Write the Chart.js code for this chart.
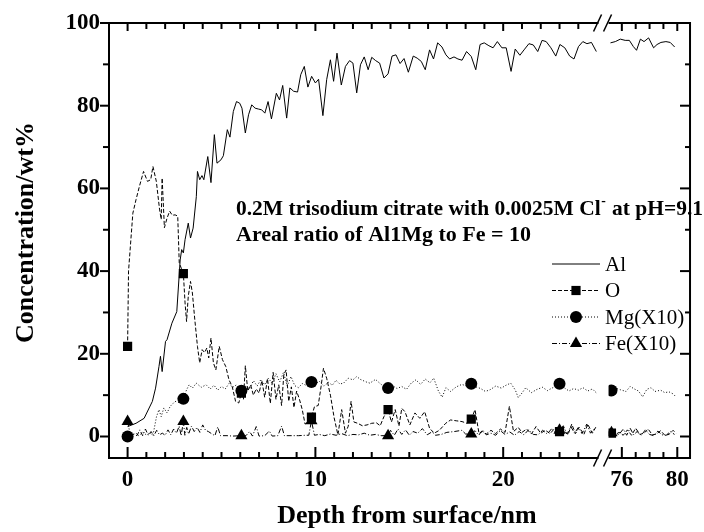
<!DOCTYPE html>
<html>
<head>
<meta charset="utf-8">
<title>Depth profile</title>
<script src="https://cdn.jsdelivr.net/npm/chart.js@4.4.1/dist/chart.umd.min.js"></script>
<style>
  body { margin: 0; background: #ffffff; }
  canvas { display: block; }
</style>
</head>
<body>
<canvas id="chart" width="704" height="532"></canvas>
<script>
// depth in nm, concentration in wt%; depths above 75 sit right of the axis break
const alDepth = [0, 0.45, 0.88, 1.32, 1.49, 1.67, 1.75, 1.84, 2.02, 2.1,
    2.36, 2.62, 2.8, 2.88, 2.97, 3.06, 3.23, 3.35, 3.49, 3.66,
    3.72, 3.84, 3.96, 4.06, 4.27, 4.44, 4.62, 4.76, 4.97, 5.1,
    5.31, 5.45, 5.63, 5.8, 5.97, 6.09, 6.27, 6.44, 6.61, 6.79,
    6.96, 7.14, 7.31, 7.48, 7.66, 7.92, 8.09, 8.26, 8.47, 8.64,
    8.84, 9.05, 9.22, 9.41, 9.6, 9.8, 10.0, 10.17, 10.4, 10.6,
    10.8, 10.97, 11.15, 11.38, 11.6, 11.82, 12.0, 12.2, 12.4, 12.6,
    12.81, 13.0, 13.21, 13.42, 13.65, 13.87, 14.08, 14.29, 14.51, 14.72,
    14.95, 15.21, 15.42, 15.64, 15.85, 16.08, 16.29, 16.51, 16.74, 16.95,
    17.15, 17.38, 17.59, 17.81, 18.05, 18.3, 18.54, 18.77, 18.99, 19.24,
    19.46, 19.69, 19.93, 20.16, 20.42, 20.64, 20.89, 21.11, 21.37, 21.6,
    21.84, 22.07, 22.29, 22.54, 22.8, 23.02, 23.28, 23.54, 23.77, 24.01,
    24.24, 24.46, 24.7, 24.96,
    75.18, 75.53, 75.89, 76.24, 76.54, 76.83, 77.06, 77.34, 77.6, 77.93,
    78.29, 78.54, 78.82, 79.18, 79.49, 79.81];
const alConc = [2.4, 3.2, 4.4, 8.5, 11.7, 16.9, 19.4, 15.7, 23, 23.4,
    27.4, 30.2, 42.7, 45.2, 44.4, 47.6, 51.6, 48, 50.4, 58,
    64.1, 62.1, 63.1, 62.1, 67.7, 61.4, 73, 66.1, 66.9, 67.9,
    74.2, 72.4, 78.6, 81, 80.6, 79.4, 73.4, 77.8, 80.2, 79.4,
    79.2, 79, 78.2, 81, 76.8, 83, 81.4, 84.9, 77, 84.3,
    83.5, 83.3, 87.5, 89.5, 84.5, 87.1, 85.5, 86.4, 77.6, 86.3,
    91.1, 85.9, 92.7, 85, 89.5, 90.9, 90.3, 83.1, 89.9, 91.8,
    88.7, 91.7, 90.9, 90.3, 86.7, 87.7, 92, 92.3, 90.2, 91.4,
    88.1, 92, 91.5, 90.7, 88.7, 93.5, 91.3, 95.2, 94.2, 92.3,
    91.3, 91.8, 91.3, 91, 93.1, 91.9, 88.7, 94.8, 95.2, 94.5,
    94, 95.5, 94, 94, 88.3, 93.7, 92.2, 93.5, 95, 94.7,
    93.1, 95.8, 95.5, 94, 92, 94.8, 94, 92, 91.3, 94.3,
    95.5, 95, 95.3, 93.1,
    95.2, 95.5, 96.1, 95.8, 95.8, 94.3, 93.4, 96.1, 95.5, 96.4,
    94, 94.8, 95.3, 95.5, 95.3, 94.2];

const oDepth = [0, 0.05, 0.28, 0.45, 0.63, 0.85, 1.06, 1.23, 1.35, 1.53,
    1.7, 1.79, 1.84, 1.96, 2.1, 2.24, 2.38, 2.53, 2.67, 2.75,
    2.97, 3.06, 3.14, 3.23, 3.35, 3.45, 3.58, 3.72, 3.84, 3.97,
    4.1, 4.22, 4.32, 4.44, 4.57, 4.7, 4.88, 5.05, 5.23, 5.4,
    5.57, 5.75, 5.92, 6.06, 6.17, 6.27, 6.4, 6.55, 6.7, 6.85,
    7.0, 7.15, 7.3, 7.45, 7.6, 7.75, 7.9, 8.05, 8.2, 8.32,
    8.44, 8.58, 8.72, 8.86, 9.0, 9.15, 9.3, 9.45, 9.6, 9.79,
    9.95, 10.15, 10.3, 10.43, 10.6, 10.8, 11.0, 11.2, 11.4, 11.6,
    11.75, 11.9, 12.05, 12.25, 12.5, 12.75, 13.0, 13.25, 13.45, 13.65,
    13.87, 14.05, 14.25, 14.45, 14.6, 14.77, 15.03, 15.3, 15.56, 15.82,
    16.08, 16.33, 16.6, 16.94, 17.2, 17.5, 17.81, 18.07, 18.3, 18.5,
    18.71, 18.9, 19.1, 19.35, 19.6, 19.85, 20.1, 20.33, 20.55, 20.8,
    21.0, 21.25, 21.5, 21.75, 22.0, 22.25, 22.5, 22.75, 23.0, 23.2,
    23.45, 23.65, 23.85, 24.05, 24.3, 24.5, 24.75, 24.95,
    75.25, 75.5, 75.8, 76.1, 76.4, 76.7, 77.0, 77.3, 77.6, 77.9,
    78.2, 78.5, 78.8, 79.1, 79.4, 79.7, 79.9];
const oConc = [21.8, 40, 54, 57.3, 60.5, 64.1, 61.7, 62.1, 65.3, 61.7,
    55, 52.5, 62.5, 50.5, 52.8, 54.5, 53.5, 53.6, 53.3, 42,
    39.4, 32.3, 27.8, 33.9, 37.5, 34.7, 28.2, 21.8, 17.8, 21,
    20.3, 21.4, 19, 23.8, 17.8, 16.1, 21.8, 18.6, 16.9, 13.7,
    12.1, 8.5, 8.1, 10.5, 9, 17.1, 11, 12.5, 10, 11.5,
    10.5, 13.5, 9.5, 14, 8, 15.5, 9, 12.5, 7.5, 15,
    16.1, 8.5, 12, 7, 11, 9, 6.5, 3, 3.5, 4.7,
    7.2, 7.5, 12, 16.5, 14.1, 10, 4.5, 0.4, 6.5, 0.8,
    2.5, 8.5, 3.5, 3.2, 2.6, 2.8, 3.2, 3.3, 2.6, 4.8,
    6.5, 3.5, 6.5, 2.5, 6.8, 6, 2.8, 5.7, 4.4, 6,
    2, 0.8, 1.5, 3.2, 4, 3.8, 3.6, 3.2, 4.2, 6.5,
    0.8, 1.2, 0.6, 1.5, 0.7, 1.8, 1.0, 7.3, 1.2, 2.2,
    1.0, 1.8, 0.6, 2.4, 0.8, 1.5, 0.7, 2.0, 1.2, 1.6,
    0.4, 3.0, 0.7, 2.2, 0.5, 3.0, 0.8, 2.4,
    0.8, 0.4, 1.0, 0.3, 1.6, 0.3, 2.0, 0.5, 0.8, 1.8,
    0.4, 0.6, 1.4, 0.3, 0.5, 1.5, 0.8];

const mgDepth = [0, 0.2, 0.45, 0.6, 0.8, 1.0, 1.2, 1.35, 1.54, 1.67,
    1.79, 1.93, 2.1, 2.27, 2.53, 2.75, 2.97, 3.14, 3.28, 3.45,
    3.66, 3.92, 4.18, 4.4, 4.6, 4.8, 5.0, 5.2, 5.4, 5.6,
    5.8, 6.06, 6.3, 6.5, 6.7, 6.9, 7.1, 7.3, 7.5, 7.7,
    7.9, 8.1, 8.3, 8.5, 8.7, 8.9, 9.1, 9.3, 9.5, 9.79,
    10.0, 10.2, 10.45, 10.7, 10.9, 11.1, 11.3, 11.5, 11.75, 12.0,
    12.2, 12.4, 12.7, 12.9, 13.2, 13.5, 13.87, 14.1, 14.35, 14.6,
    14.85, 15.1, 15.35, 15.6, 15.85, 16.1, 16.3, 16.55, 16.75, 16.95,
    17.2, 17.5, 17.8, 18.05, 18.3, 18.55, 18.8, 19.05, 19.3, 19.6,
    19.9, 20.15, 20.4, 20.65, 20.8, 21.0, 21.2, 21.5, 21.8, 22.1,
    22.35, 22.6, 22.8, 23.0, 23.25, 23.5, 23.75, 24.0, 24.25, 24.5,
    24.75, 24.95,
    75.25, 75.6, 75.9, 76.3, 76.6, 76.9, 77.2, 77.5, 77.8, 78.1,
    78.4, 78.8, 79.1, 79.4, 79.7, 79.9];
const mgConc = [0, 0.3, 0.8, 0.2, 1.0, 0.4, 0.8, 0.3, 4.8, 6.5,
    4.8, 6.9, 5.7, 7.3, 8.5, 8.2, 9.1, 11.3, 12.5, 11.7,
    12.9, 11.9, 12.5, 11.5, 12.4, 11.2, 12.1, 11.5, 12.8, 11.9,
    12.5, 11.05, 12.2, 11.5, 13.5, 12.2, 13.8, 12.5, 14.1, 12.8,
    15.2, 13.2, 15.5, 12.2, 14.5, 12.3, 11.8, 12.8, 12.4, 13.2,
    12.6, 13.4, 12.2, 13.1, 12.4, 13.6, 12.7, 12.9, 14.1, 13.7,
    14.5, 13.8, 13.2, 12.9, 13.8, 12.6, 11.7, 12.3, 11.6, 12.1,
    11.4, 12.9, 13.7, 12.6, 13.9, 13.0, 14.1, 11.0, 9.5, 11.8,
    10.9, 12.0, 12.6, 12.2, 12.75, 12.0, 11.6, 10.9, 11.3, 12.2,
    11.7, 12.4, 12.9, 11.2, 9.4, 10.5, 11.8, 10.6, 11.4, 11.9,
    11.1, 11.7, 12.2, 12.75, 11.8, 11.0, 11.6, 11.2, 11.8, 11.0,
    11.5, 10.6,
    11.1, 11.6, 11.3, 10.9, 12.1, 11.5, 11.0, 9.6, 11.4, 11.8,
    10.9, 11.2, 10.6, 10.8, 10.3, 9.6];

const feDepth = [0, 0.15, 0.35, 0.5, 0.65, 0.8, 0.95, 1.1, 1.25, 1.4,
    1.55, 1.7, 1.85, 2.0, 2.15, 2.3, 2.45, 2.6, 2.75, 2.85,
    2.97, 3.05, 3.15, 3.25, 3.4, 3.55, 3.7, 3.85, 4.0, 4.15,
    4.3, 4.5, 4.65, 4.8, 4.95, 5.3, 5.6, 6.06, 6.3, 6.5,
    6.65, 6.85, 7.0, 7.3, 7.55, 7.7, 8.0, 8.2, 8.35, 8.8,
    9.1, 9.5, 9.65, 9.79, 9.95, 10.2, 10.5, 10.8, 11.1, 11.4,
    11.7, 12.0, 12.3, 12.6, 12.9, 13.2, 13.5, 13.87, 14.0, 14.2,
    14.4, 14.6, 14.8, 15.0, 15.2, 15.45, 15.7, 15.95, 16.2, 16.4,
    16.7, 17.0, 17.4, 17.8, 18.0, 18.3, 18.5, 18.7, 18.9, 19.1,
    19.35, 19.6, 19.85, 20.1, 20.35, 20.6, 20.85, 21.1, 21.35, 21.6,
    21.85, 22.1, 22.35, 22.6, 22.8, 23.0, 23.2, 23.4, 23.6, 23.8,
    24.0, 24.2, 24.45, 24.65, 24.9,
    75.25, 75.5, 75.8, 76.1, 76.35, 76.6, 76.85, 77.1, 77.4, 77.7,
    78.0, 78.3, 78.6, 78.9, 79.2, 79.5, 79.8];
const feConc = [3.6, 0.3, 0.6, 0.2, 1.6, 0.2, 1.8, 0.3, 1.2, 0.2,
    1.5, 0.4, 0.8, 0.3, 1.6, 0.4, 1.8, 0.8, 2.5, 0.2,
    3.6, 0.3, 2.2, 0.6, 2.5, 1.2, 2.2, 1.0, 2.8, 1.5,
    1.2, 0.6, 0.2, 2.3, 0.2, 0.2, 0.1, 0.2, 0.2, 1.2,
    0.1, 2.4, 0.1, 0.2, 1.3, 0.1, 0.2, 2.5, 0.2, 0.2,
    0.2, 0.3, 0.3, 3.8, 0.3, 0.5, 0.2, 0.6, 0.3, 0.7,
    0.2, 0.5, 0.4, 0.8, 0.3, 0.5, 0.2, 0.2, 1.5, 0.3,
    1.8, 0.5, 1.6, 0.3, 1.2, 0.8, 1.9, 0.4, 1.1, 0.3,
    0.5, 1.0, 1.2, 1.5, 0.6, 0.6, 1.4, 0.3, 1.6, 0.4,
    0.8, 0.3, 1.4, 0.5, 1.1, 0.3, 1.2, 0.4, 1.6, 0.5,
    0.4, 1.5, 0.6, 2.0, 0.8, 1.5, 2.6, 0.6, 2.4, 0.8,
    2.2, 0.7, 3.0, 0.8, 2.1,
    0.9, 0.3, 0.5, 1.8, 0.3, 2.0, 0.4, 1.2, 0.3, 1.6,
    0.5, 0.2, 1.3, 0.4, 0.3, 1.2, 0.5];

const seriesLabels = ['Al', 'O', 'Mg(X10)', 'Fe(X10)'];
const markerDepths = [0, 2.97, 6.06, 9.79, 13.87, 18.3, 23.0, 75.25];
const leftTicks = [0, 10, 20];
const rightTicks = [76, 80];
const concTicks = [0, 20, 40, 60, 80, 100];

const serif = '"Liberation Serif", "Times New Roman", serif';

const styles = [
    {dash: [], marker: null, size: 0},
    {dash: [4, 2], marker: 'rect', size: 6.5},
    {dash: [1, 2], marker: 'circle', size: 6},
    {dash: [5, 2, 1, 2], marker: 'triangle', size: 7}
];

function splitSeries(depth, conc) {
    const left = [], right = [];
    depth.forEach(function (d, i) {
        (d < 50 ? left : right).push({x: d, y: conc[i]});
    });
    return [left, right];
}

const seriesData = [[alDepth, alConc], [oDepth, oConc], [mgDepth, mgConc], [feDepth, feConc]];
const datasets = [];
seriesData.forEach(function (s, k) {
    const st = styles[k];
    splitSeries(s[0], s[1]).forEach(function (pts, side) {
        datasets.push({
            label: seriesLabels[k],
            data: pts,
            xAxisID: side ? 'x2' : 'x',
            yAxisID: 'y',
            borderColor: '#000',
            borderWidth: 1,
            borderDash: st.dash,
            tension: 0,
            fill: false,
            pointStyle: st.marker || 'circle',
            pointRadius: function (c) {
                return st.marker && c.raw && markerDepths.includes(c.raw.x) ? st.size : 0;
            },
            pointBackgroundColor: '#000',
            pointBorderColor: '#000',
            pointBorderWidth: 0,
            pointHoverRadius: 0
        });
    });
});

function line(ctx, x1, y1, x2, y2) {
    ctx.beginPath();
    ctx.moveTo(x1, y1);
    ctx.lineTo(x2, y2);
    ctx.stroke();
}

const framePlugin = {
    id: 'frame',
    afterDraw(chart) {
        const ctx = chart.ctx;
        const a = chart.chartArea;
        const xs = chart.scales.x, x2 = chart.scales.x2, ys = chart.scales.y;
        ctx.save();
        ctx.strokeStyle = '#000';
        ctx.fillStyle = '#000';
        ctx.setLineDash([]);
        ctx.lineWidth = 2;
        ctx.strokeRect(a.left, a.top, a.right - a.left, a.bottom - a.top);

        // y ticks: outward on the left, inward on the right
        for (let v = 0; v <= 100; v += 10) {
            const py = ys.getPixelForValue(v);
            const major = v % 20 === 0;
            line(ctx, a.left, py, a.left - (major ? 9 : 6), py);
            line(ctx, a.right, py, a.right - (major ? 10 : 5), py);
        }
        // x ticks point inward, top and bottom
        function xTick(px, major) {
            line(ctx, px, a.bottom, px, a.bottom - (major ? 11 : 6));
            line(ctx, px, a.top, px, a.top + (major ? 8 : 6));
        }
        for (let v = 0; v <= 24; v++) xTick(xs.getPixelForValue(v), v % 10 === 0);
        for (let v = 76; v <= 80; v++) xTick(x2.getPixelForValue(v), v === 76 || v === 80);

        // axis break
        const bx = x2.left - 6;
        [a.top, a.bottom].forEach(function (yy) {
            ctx.fillStyle = '#fff';
            ctx.fillRect(bx - 4, yy - 3, 10, 6);
            ctx.lineWidth = 1.5;
            line(ctx, bx - 9, yy + 8.5, bx - 1, yy - 8.5);
            line(ctx, bx + 1, yy + 8.5, bx + 9, yy - 8.5);
        });

        // legend
        ctx.fillStyle = '#000';
        ctx.font = '21px ' + serif;
        ctx.textAlign = 'left';
        ctx.textBaseline = 'alphabetic';
        seriesLabels.forEach(function (lab, k) {
            const st = styles[k];
            const ly = 264 + k * 26.5;
            ctx.lineWidth = 1;
            ctx.setLineDash(st.dash);
            line(ctx, 552, ly, 600, ly);
            ctx.setLineDash([]);
            if (st.marker) {
                Chart.helpers.drawPoint(ctx, {pointStyle: st.marker, radius: st.size, rotation: 0, borderWidth: 0}, 576, ly);
            }
            ctx.fillText(lab, 605, ly + 6.5);
        });

        // note
        ctx.font = 'bold 22px ' + serif;
        const p1 = '0.2M trisodium citrate with 0.0025M Cl';
        const p2 = ' at pH=9.1';
        const w1 = ctx.measureText(p1).width;
        const w2 = ctx.measureText(p2).width;
        const sq = Math.min(1, 467 / (w1 + 6 + w2));
        ctx.save();
        ctx.translate(236, 215);
        ctx.scale(sq, 1);
        ctx.fillText(p1, 0, 0);
        ctx.fillText(p2, w1 + 6, 0);
        ctx.font = 'bold 14px ' + serif;
        ctx.fillText('-', w1 + 0.5, -10);
        ctx.restore();
        ctx.font = 'bold 22px ' + serif;
        ctx.fillText('Areal ratio of Al1Mg to Fe = 10', 236, 241);

        // axis titles
        ctx.font = 'bold 26px ' + serif;
        ctx.textAlign = 'center';
        ctx.fillText('Depth from surface/nm', 407, 523);
        ctx.save();
        ctx.translate(33, 232.5);
        ctx.rotate(-Math.PI / 2);
        ctx.fillText('Concentration/wt%', 0, 0);
        ctx.restore();
        ctx.restore();
    }
};

const tickFont = {family: serif, size: 23, weight: 'bold'};

new Chart(document.getElementById('chart'), {
    type: 'line',
    data: {datasets: datasets},
    options: {
        responsive: false,
        animation: false,
        events: [],
        devicePixelRatio: 1,
        layout: {padding: {top: 23, right: 1, left: 0, bottom: 0}},
        plugins: {legend: {display: false}, tooltip: {enabled: false}},
        scales: {
            x: {
                type: 'linear', position: 'bottom', stack: 'depth', stackWeight: 510.7,
                min: -0.99, max: 25.61,
                grid: {display: false, drawTicks: false}, border: {display: false},
                afterBuildTicks: function (s) { s.ticks = leftTicks.map(v => ({value: v})); },
                afterFit: function (s) { s.height = 74; },
                ticks: {font: tickFont, color: '#000', padding: 8, maxRotation: 0, autoSkip: false}
            },
            x2: {
                type: 'linear', position: 'bottom', stack: 'depth', stackWeight: 83.3,
                min: 75.04, max: 80.92,
                grid: {display: false, drawTicks: false}, border: {display: false},
                afterBuildTicks: function (s) { s.ticks = rightTicks.map(v => ({value: v})); },
                afterFit: function (s) { s.height = 74; },
                ticks: {font: tickFont, color: '#000', padding: 8, maxRotation: 0, autoSkip: false}
            },
            y: {
                type: 'linear', position: 'left', min: -5.2, max: 100,
                grid: {display: false, drawTicks: false}, border: {display: false},
                afterBuildTicks: function (s) { s.ticks = concTicks.map(v => ({value: v})); },
                afterFit: function (s) { s.width = 109; },
                ticks: {font: tickFont, color: '#000', padding: 9}
            }
        }
    },
    plugins: [framePlugin]
});
</script>
</body>
</html>
